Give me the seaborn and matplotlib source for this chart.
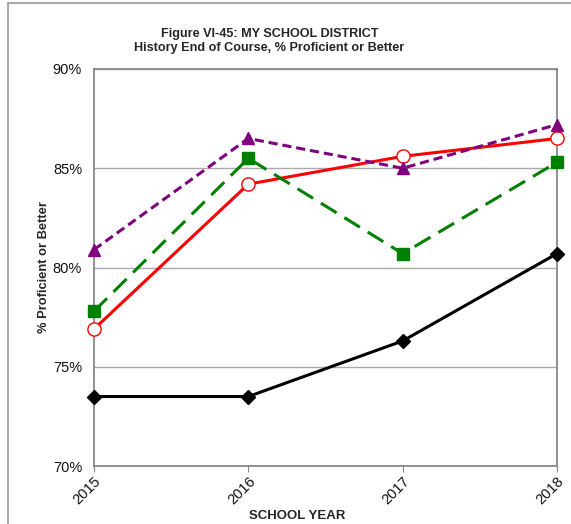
import pandas as pd
import seaborn as sns
import matplotlib
matplotlib.use('Agg')
import matplotlib.pyplot as plt
from matplotlib.ticker import PercentFormatter
from matplotlib.lines import Line2D

years = [2015, 2016, 2017, 2018]
district = [73.5, 73.5, 76.3, 80.7]
state = [76.9, 84.2, 85.6, 86.5]
region = [77.8, 85.5, 80.7, 85.3]
peer = [80.9, 86.5, 85.0, 87.2]

sns.set_style('white')
plt.rcParams['font.family'] = ['Liberation Sans', 'DejaVu Sans']

fig = plt.figure(figsize=(5.71, 5.24), dpi=100)
ax = fig.add_axes([94 / 571, 1 - 466 / 524, (557 - 94) / 571, (466 - 69) / 524])

# series styles: (values, colour, dashes, marker, face, size)
series = [
    (district, 'black', '', 'D', 'black', 7),
    (state, 'red', '', 'o', 'white', 9.5),
    (region, 'green', (6, 3), 's', 'green', 8.5),
    (peer, 'purple', (3, 1.6), '^', 'purple', 9),
]

for vals, col, dash, mk, face, ms in series:
    df = pd.DataFrame({'year': years, 'pct': vals})
    sns.lineplot(data=df, x='year', y='pct', ax=ax, color=col, linewidth=2.2,
                 marker=mk, markersize=ms, markerfacecolor=face,
                 markeredgecolor=col, markeredgewidth=1, zorder=3, clip_on=False)
    if dash:
        ax.lines[-1].set_dashes(dash)

ax.set_xlim(2015, 2018)
ax.set_ylim(70, 90)
ax.set_yticks([70, 75, 80, 85, 90])
ax.yaxis.set_major_formatter(PercentFormatter(decimals=0))
ax.set_xticks(years)
ax.set_xticklabels([str(y) for y in years], rotation=45, ha='right',
                   rotation_mode='anchor', fontsize=10.5)
ax.tick_params(axis='y', labelsize=10.5, length=0, pad=8.6, labelcolor='#111111')
ax.tick_params(axis='x', length=4, color='#888888', pad=2, labelcolor='#111111')
ax.xaxis.set_ticks_position('bottom')
ax.grid(axis='y', color='#aaaaaa', linewidth=1)
for s in ax.spines.values():
    s.set_color('#888888')
    s.set_linewidth(1.3)

ax.set_xlabel('SCHOOL YEAR', fontsize=9.5, fontweight='bold', labelpad=1)
ax.xaxis.set_label_coords((297 - 94) / 463, -0.112)
ax.set_ylabel('% Proficient or Better', fontsize=9.3, fontweight='bold', labelpad=2)

fig.text(0.472, 1 - 41 / 524, 'Figure VI-45: MY SCHOOL DISTRICT\nHistory End of Course, % Proficient or Better',
         ha='center', va='center', fontsize=9.1, fontweight='bold', linespacing=1.2)

# outer chart border
fig.add_artist(Line2D([8 / 571, 8 / 571], [0, 1 - 3 / 524], transform=fig.transFigure,
                      color='#aaaaaa', linewidth=1.5))
fig.add_artist(Line2D([8 / 571, 1], [1 - 3 / 524, 1 - 3 / 524], transform=fig.transFigure,
                      color='#aaaaaa', linewidth=1.5))

fig.savefig('out.png', dpi=100)
